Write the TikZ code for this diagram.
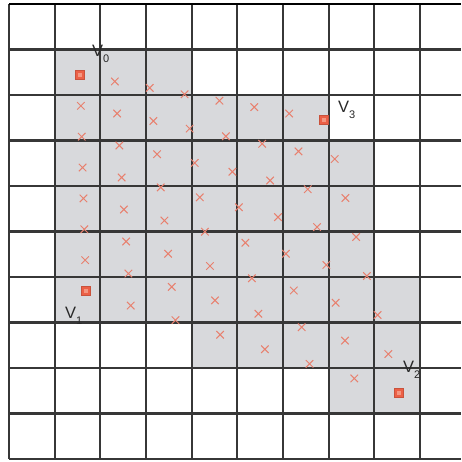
\documentclass[tikz,border=0pt]{standalone}
\usepackage{fontspec}
\setmainfont{Liberation Sans}
\usetikzlibrary{shapes.misc}
\definecolor{shadec}{RGB}{216,217,220}
\definecolor{gridc}{RGB}{55,55,55}
\definecolor{xmarkc}{RGB}{232,128,110}
\definecolor{sqfill}{RGB}{236,96,70}
\definecolor{sqin}{RGB}{244,150,128}
\definecolor{labc}{RGB}{40,40,40}
\tikzset{
  gridline/.style={draw=gridc, line width=2.1pt},
  xpt/.style={cross out, draw=xmarkc, line width=1pt, minimum size=6.5pt, inner sep=0pt},
  vsq/.style={rectangle, fill=sqfill, draw=sqfill!85!black, line width=0.6pt, minimum size=9pt, inner sep=0pt,
    path picture={\fill[sqin] (path picture bounding box.center) ++(-1.8pt,-1.8pt) rectangle ++(3.6pt,3.6pt);}},
  vlab/.style={anchor=base west, inner sep=0pt, text=labc}
}
\newcommand{\vl}[1]{{\fontsize{16.5}{16.5}\selectfont V}\raisebox{-6pt}{\fontsize{11}{11}\selectfont #1}}
\begin{document}
\begin{tikzpicture}[x=1pt,y=-1pt]
\useasboundingbox (0,0) rectangle (461,462);
\fill[white] (0,0) rectangle (461,462);
% shaded region and grid, in grid units
\begin{scope}[xshift=9pt, yshift=-4pt, x=45.67pt, y=-45.5pt]
  \fill[shadec] (1,1) -- (4,1) -- (4,2) -- (7,2) -- (7,3) -- (8,3) -- (8,6) -- (9,6) -- (9,9)
    -- (7,9) -- (7,8) -- (4,8) -- (4,7) -- (1,7) -- cycle;
  \foreach \k in {0,...,9} \draw[gridline] (\k,0) -- (\k,10);
  \foreach \k in {1,...,10} \draw[gridline] (0,\k) -- (9.9,\k);
  \draw[gridline, draw=black, line width=2.4pt] (0,0) -- (9.9,0);
\end{scope}
% interpolated points
\foreach \i in {0,...,7}{
  \foreach \j in {0,...,7}{
    \pgfmathsetmacro\s{\i/7}
    \pgfmathsetmacro\t{\j/7}
    \pgfmathsetmacro\px{(1-\s)*(1-\t)*80+\s*(1-\t)*324+(1-\s)*\t*86+\s*\t*399}
    \pgfmathsetmacro\py{(1-\s)*(1-\t)*75+\s*(1-\t)*120+(1-\s)*\t*291+\s*\t*393}
    \pgfmathtruncatemacro\corner{((\i==0)||(\i==7))&&((\j==0)||(\j==7))}
    \ifnum\corner=0
      \node[xpt] (p-\i-\j) at (\px,\py) {};
    \fi
  }
}
% corner squares
\node[vsq] (v0) at (80,75) {};
\node[vsq] (v3) at (324,120) {};
\node[vsq] (v1) at (86,291) {};
\node[vsq] (v2) at (399,393) {};
% labels
\node[vlab] (l0) at (92,57) {\vl{0}};
\node[vlab] (l3) at (338,113) {\vl{3}};
\node[vlab] (l1) at (65,318) {\vl{1}};
\node[vlab] (l2) at (403,372) {\vl{2}};
\end{tikzpicture}
\end{document}
